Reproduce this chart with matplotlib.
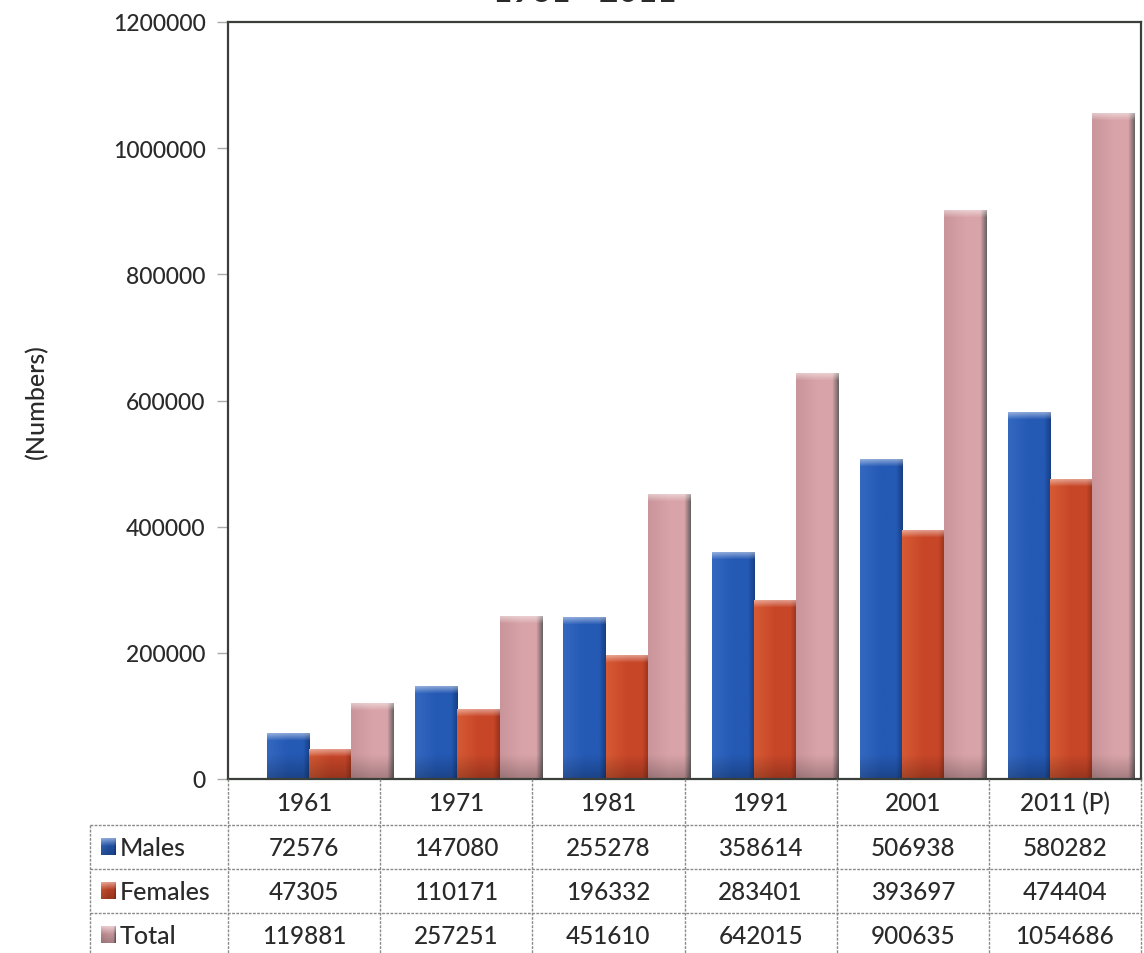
import numpy as np
import matplotlib
matplotlib.use("Agg")
import matplotlib.pyplot as plt
from matplotlib.colors import to_rgb

# ---------------- data ----------------
years = ["1961", "1971", "1981", "1991", "2001", "2011 (P)"]
series_names = ["Males", "Females", "Total"]
males = [72576, 147080, 255278, 358614, 506938, 580282]
females = [47305, 110171, 196332, 283401, 393697, 474404]
total = [119881, 257251, 451610, 642015, 900635, 1054686]
y_ticks = [0, 200000, 400000, 600000, 800000, 1000000, 1200000]
y_label = "(Numbers)"
title_text = "1961 - 2011"

series_values = [males, females, total]
# (left, mid, right) colours for each series' gradient
series_colors = [
    ("#3468c0", "#2459b4", "#183f85"),
    ("#d65a34", "#c84628", "#98331e"),
    ("#c9959a", "#d9a4a9", "#6a6264"),
]

plt.rcParams["font.family"] = ["Lato", "DejaVu Sans"]
TXT = "#2a2a2a"
FW = "medium"

W, H = 1144, 954
fig = plt.figure(figsize=(W / 100, H / 100), dpi=100)

ax_l, ax_r, ax_t, ax_b = 228, 1141, 23, 780
ax = fig.add_axes([ax_l / W, 1 - ax_b / H, (ax_r - ax_l) / W, (ax_b - ax_t) / H])

unit_px = 148.2
first_center_px = 288.5
xmin = (ax_l - first_center_px) / unit_px
xmax = (ax_r - first_center_px) / unit_px
ymax = 1200000
px_per_val = (ax_b - ax_t) / ymax

bar_w = 0.29
offsets = [0.0, 0.285, 0.57]
x = np.arange(len(years))


def bar_image(colors, h_val, nx=60):
    c0, c1, c2 = (np.array(to_rgb(c)) for c in colors)
    t = np.linspace(0, 1, nx)
    row = np.empty((nx, 3))
    for k, tt in enumerate(t):
        if tt < 0.5:
            row[k] = c0 + (c1 - c0) * (tt / 0.5)
        elif tt < 0.85:
            row[k] = c1
        else:
            row[k] = c1 + (c2 - c1) * ((tt - 0.85) / 0.15)
    ny = max(int(h_val * px_per_val), 2)
    img = np.repeat(row[None, :, :], ny, axis=0)
    # highlight at the top (3D cap)
    cap = min(7, ny)
    for r in range(cap):
        a = 0.45 * (1 - r / cap)
        img[r] = img[r] * (1 - a) + a
    # slight darkening at the bottom
    shade = min(25, ny)
    for r in range(shade):
        a = 0.25 * (r / shade)
        img[ny - shade + r] = img[ny - shade + r] * (1 - a)
    return img


for si, vals in enumerate(series_values):
    bars = ax.bar(x + offsets[si], vals, width=bar_w, color="none",
                  edgecolor="none", label=series_names[si], zorder=2)
    for b, v in zip(bars, vals):
        img = bar_image(series_colors[si], v)
        ax.imshow(img, extent=[b.get_x(), b.get_x() + b.get_width(), 0, v],
                  aspect="auto", zorder=2, interpolation="bilinear")

ax.set_xlim(xmin, xmax)
ax.set_ylim(0, ymax)
ax.set_yticks(y_ticks)
ax.set_yticklabels([str(v) for v in y_ticks], fontsize=16.5, color=TXT,
                   fontweight=FW)
ax.tick_params(axis="y", direction="out", length=8, width=1, color="#aaaaaa", pad=8)
ax.set_xticks([])
for s in ["left", "top", "right", "bottom"]:
    ax.spines[s].set_color("#3a3f3a")
    ax.spines[s].set_linewidth(1.6)
ax.set_ylabel(y_label, fontsize=18, color=TXT, labelpad=0, fontweight=FW)
ax.yaxis.set_label_coords((36 - ax_l) / (ax_r - ax_l), 0.5)
ax.yaxis.label.set_va("center")

# ---------------- overlay for table (pixel coordinates) ----------------
ov = fig.add_axes([0, 0, 1, 1], facecolor="none")
ov.set_xlim(0, W)
ov.set_ylim(H, 0)
ov.axis("off")

col_w = (ax_r - ax_l) / len(years)
row_edges = [ax_b, 826, 870, 914, 958]
lab_left = 90
grid_kw = dict(color="#8a8a8a", lw=1.0, ls=(0, (2, 1)), zorder=3)

for j in range(len(years) + 1):
    xx = ax_l + j * col_w
    ov.plot([xx, xx], [ax_b, H], **grid_kw)
ov.plot([lab_left, lab_left], [row_edges[1], H], **grid_kw)
for yy in row_edges[1:4]:
    ov.plot([lab_left, ax_r], [yy, yy], **grid_kw)

for j, yr in enumerate(years):
    ov.text(ax_l + (j + 0.5) * col_w, (row_edges[0] + row_edges[1]) / 2 + 1, yr,
            ha="center", va="center", fontsize=17.5, color=TXT, fontweight=FW)

for si, vals in enumerate(series_values):
    yc = (row_edges[si + 1] + row_edges[si + 2]) / 2
    # legend key
    img = bar_image(series_colors[si], 16 / px_per_val, nx=20)
    ov.imshow(img, extent=[101, 116, yc + 8, yc - 9], aspect="auto", zorder=4,
              interpolation="bilinear")
    ov.text(120, yc + 1, series_names[si], ha="left", va="center",
            fontsize=18, color=TXT, fontweight=FW)
    for j, v in enumerate(vals):
        ov.text(ax_l + (j + 0.5) * col_w, yc + 1, str(v), ha="center", va="center",
                fontsize=17.5, color=TXT, fontweight=FW)

ov.set_xlim(0, W)
ov.set_ylim(H, 0)

# partially visible title at the very top (cut off in the reference)
ov.text(585, 2, title_text, ha="center", va="baseline", fontsize=24,
        fontweight="bold", color=TXT)

fig.savefig("out.png", dpi=100)
